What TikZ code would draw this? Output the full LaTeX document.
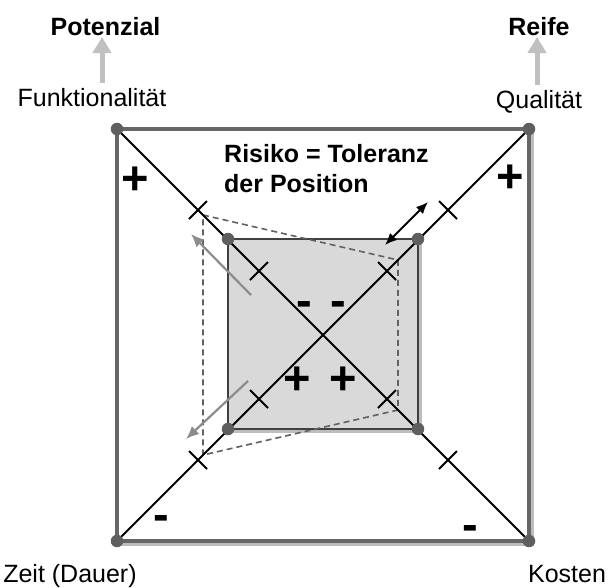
\documentclass[tikz,border=0pt]{standalone}
\usepackage{fontspec}
\setmainfont{Liberation Sans}
\usetikzlibrary{arrows.meta,positioning,calc}
\definecolor{frameg}{HTML}{666666}
\definecolor{shadowg}{HTML}{BDBDBD}
\definecolor{dotg}{HTML}{5F5F5F}
\definecolor{fieldg}{HTML}{D9D9D9}
\definecolor{driftg}{HTML}{8C8C8C}
\definecolor{riseg}{HTML}{C0C0C0}
\begin{document}
\begin{tikzpicture}[
    x=1pt, y=-1pt,
    font=\fontsize{25}{30}\selectfont,
    frame/.style={draw=frameg, line width=3.5pt},
    field/.style={draw=black!75, fill=fieldg, line width=2pt},
    fieldshadow/.style={fill=shadowg, draw=none},
    corner/.style={circle, fill=dotg, inner sep=0pt, minimum size=12.5pt},
    diag/.style={draw=black, line width=1.8pt},
    tickln/.style={draw=black, line width=1.8pt},
    tolline/.style={draw=black!62, line width=1.6pt, dash pattern=on 6pt off 4pt},
    drift/.style={draw=driftg, line width=2.2pt, -{Latex[length=13pt,width=11pt]}},
    tolarrow/.style={draw=black, line width=2pt, {Latex[length=12pt,width=10pt]}-{Latex[length=12pt,width=10pt]}},
    rise/.style={draw=riseg, line width=5pt, -{Triangle[length=16pt,width=18pt]}},
    lbl/.style={anchor=base, inner sep=0pt},
    sign/.style={anchor=base, inner sep=0pt, font=\fontsize{47}{47}\bfseries\selectfont}
]
    \useasboundingbox (0,0) rectangle (610,587);

    % Eckpunkte
    \coordinate (otl) at (117,129);
    \coordinate (otr) at (529,129);
    \coordinate (obl) at (117,541);
    \coordinate (obr) at (529,541);
    \coordinate (itl) at (228,239);
    \coordinate (itr) at (418,239);
    \coordinate (ibl) at (228,429);
    \coordinate (ibr) at (418,429);

    % Toleranzbereich
    \coordinate (dtl) at (203,215);
    \coordinate (dtr) at (398,260);
    \coordinate (dbr) at (398,410);
    \coordinate (dbl) at (203,455);

    % Aeusserer Rahmen
    \draw[draw=shadowg, line width=3pt] ([shift={(3.5,3)}]otr) -- ([shift={(3.5,3.5)}]obr) -- ([shift={(3,3.5)}]obl);
    \draw[frame] (otl) rectangle (obr);

    % Innere Flaeche
    \fill[fieldshadow] ([shift={(3,3)}]itl) rectangle ([shift={(3.5,3.5)}]ibr);
    \draw[field] (itl) rectangle (ibr);

    % Toleranz (gestrichelt)
    \draw[tolline] (dtl) -- (dtr) -- (dbr) -- (dbl) -- cycle;

    % Diagonalen
    \draw[diag] (otl) -- (obr);
    \draw[diag] (obl) -- (otr);

    % Markierungen
    \draw[tickln] (198,210) ++(-9,9) -- ++(18,-18);
    \draw[tickln] (259,271) ++(-9,9) -- ++(18,-18);
    \draw[tickln] (387,399) ++(-9,9) -- ++(18,-18);
    \draw[tickln] (448,460) ++(-9,9) -- ++(18,-18);
    \draw[tickln] (448,210) ++(-9,-9) -- ++(18,18);
    \draw[tickln] (387,271) ++(-9,-9) -- ++(18,18);
    \draw[tickln] (259,399) ++(-9,-9) -- ++(18,18);
    \draw[tickln] (198,460) ++(-9,-9) -- ++(18,18);

    % Verschiebung
    \coordinate (drift_up_s) at (251,295);
    \coordinate (drift_up_e) at (191,234);
    \coordinate (drift_dn_s) at (248,381);
    \coordinate (drift_dn_e) at (186,439);
    \draw[drift] (drift_up_s) -- (drift_up_e);
    \draw[drift] (drift_dn_s) -- (drift_dn_e);

    % Toleranz der Position
    \coordinate (tol_in) at (385,245);
    \coordinate (tol_out) at (428,202);
    \draw[tolarrow] (tol_in) -- (tol_out);

    % Punkte
    \node[corner] (dot_otl) at (otl) {};
    \node[corner] (dot_otr) at (otr) {};
    \node[corner] (dot_obl) at (obl) {};
    \node[corner] (dot_obr) at (obr) {};
    \node[corner] (dot_itl) at (itl) {};
    \node[corner] (dot_itr) at (itr) {};
    \node[corner] (dot_ibl) at (ibl) {};
    \node[corner] (dot_ibr) at (ibr) {};

    % Beschriftungen
    \node[lbl, font=\fontsize{25}{30}\bfseries\selectfont] (pot) at (105.5,35) {Potenzial};
    \node[lbl] (funk) at (92,106) {Funktionalität};
    \node[lbl, font=\fontsize{25}{30}\bfseries\selectfont] (reife) at (539,35) {Reife};
    \node[lbl] (qual) at (539,108) {Qualität};
    \node[lbl] (zeit) at (70,582) {Zeit (Dauer)};
    \node[lbl] (kosten) at (567,582) {Kosten};
    \node[anchor=north west, inner sep=0pt, align=left, font=\fontsize{25}{30}\bfseries\selectfont] (risiko) at (224,144) {Risiko = Toleranz\\der Position};

    % Pfeile nach oben
    \draw[rise] ([xshift=-3.5pt,yshift=5pt]pot.base |- funk.north) -- ([xshift=-3.5pt,yshift=-2pt]pot.base);
    \draw[rise] ([xshift=-2pt,yshift=5pt]reife.base |- qual.north) -- ([xshift=-2pt,yshift=-2pt]reife.base);

    % Vorzeichen
    \node[sign] (plus_tl) at (135,194) {+};
    \node[sign] (plus_tr) at (510,192) {+};
    \node[sign] (minus_bl) at (161,530) {-};
    \node[sign] (minus_br) at (470,540) {-};
    \node[sign] (minus_in) at (321,316) {- \kern5pt-};
    \node[sign] (plus_in) at (320,394) {+ \kern6pt+};

\end{tikzpicture}
\end{document}
